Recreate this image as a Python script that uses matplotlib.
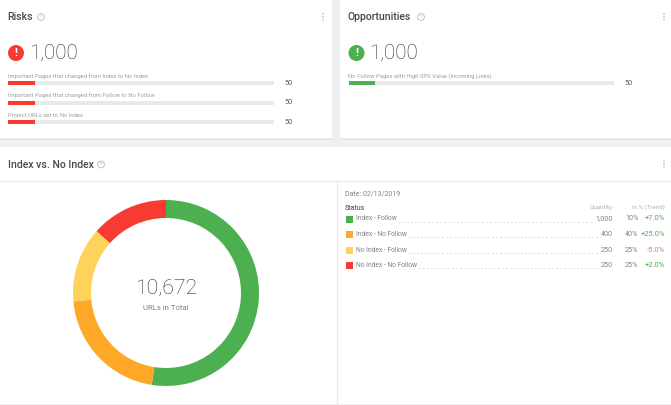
from matplotlib import pyplot as plt
from matplotlib.patches import Rectangle, Circle

plt.rcParams['font.family'] = ['Roboto', 'DejaVu Sans']

# chart values
risk_labels = ['Important Pages that changed from Index to No Index',
               'Important Pages that changed from Follow to No Follow',
               'Project URLs set to No Index']
risk_values = [50, 50, 50]
opp_labels = ['No Follow Pages with High SPS Value (Incoming Links)']
opp_values = [50]
bar_max = 500
risk_total = '1,000'
opp_total = '1,000'

donut_status = ['Index - Follow', 'Index - No Follow', 'No Index - Follow', 'No Index - No Follow']
donut_share = [5600, 2250, 1390, 1432]
donut_total = '10,672'
table_qty = ['1,000', '400', '250', '250']
table_pct = ['10%', '40%', '25%', '25%']
table_trend = ['+7.0%', '+25.0%', '-5.0%', '+2.0%']

GREEN = '#4caf50'
ORANGE = '#ffa726'
YELLOW = '#ffd25c'
RED = '#f73b32'
status_colors = [GREEN, ORANGE, YELLOW, RED]
W, H = 671, 405


def px_axes(fig, x, y, w, h):
    # axes placed with pixel coords, y from the top
    return fig.add_axes([x / W, 1 - (y + h) / H, w / W, h / H])


def draw_help(ax, x, y, r=3.4):
    ax.add_patch(Circle((x, y), r, fc='none', ec='#b5b8ba', lw=0.6))
    ax.text(x, y + 0.2, '?', fontsize=3.8, color='#b5b8ba', ha='center', va='center')


def draw_dots(ax, x, y):
    for dy in (-3, 0, 3):
        ax.add_patch(Circle((x, y + dy), 0.85, fc='#b8bbbd', ec='none'))


def draw_card(ax, fig, x0, title, help_x, color, total, labels, values, dots_x):
    ax.text(x0 - 0.5, 17.5, title, fontsize=7.6, fontweight='medium', color='#47494c', ha='left', va='center')
    draw_help(ax, help_x, 17)
    ax.add_patch(Circle((x0 + 8, 53), 8, fc=color, ec='none'))
    ax.text(x0 + 8, 53, '!', fontsize=8, fontweight='bold', color='white', ha='center', va='center')
    ax.text(x0 + 21, 53.5, total, fontsize=14.8, fontweight='light', color='#2c2e30', ha='left', va='center')
    draw_dots(ax, dots_x, 17)
    for i, (label, value) in enumerate(zip(labels, values)):
        y = 83 + i * 19.7
        ax.text(x0, y - 7.2, label, fontsize=4.2, color='#9c9ea0', ha='left', va='center')
        bar_ax = px_axes(fig, x0, y - 2, 266, 4)
        bar_ax.barh([0], [bar_max], height=1, color='#e8e9ea')
        bar_ax.barh([0], [value], height=1, color=color)
        bar_ax.set_xlim(0, bar_max)
        bar_ax.set_ylim(-0.5, 0.5)
        bar_ax.axis('off')
        ax.text(x0 + 276, y + 0.3, str(value), fontsize=5.2, color='#5a5c5e', ha='left', va='center')


fig = plt.figure(figsize=(6.71, 4.05), dpi=100, facecolor='#eff0f2')
bg = fig.add_axes([0, 0, 1, 1])
bg.set_xlim(0, W)
bg.set_ylim(H, 0)
bg.axis('off')

# cards
bg.add_patch(Rectangle((0, 0), 332, 138, fc='white', ec='none'))
bg.add_patch(Rectangle((340, 0), 331, 138, fc='white', ec='none'))
bg.add_patch(Rectangle((0, 147), 671, 257, fc='white', ec='none'))
bg.plot([0, 332], [138.5, 138.5], color='#e2e3e5', lw=0.8)
bg.plot([340, 671], [138.5, 138.5], color='#e2e3e5', lw=0.8)
bg.plot([0, 671], [404.5, 404.5], color='#e2e3e5', lw=0.8)
bg.plot([0, 671], [181, 181], color='#e8e9ea', lw=0.8)
bg.plot([336.5, 336.5], [181, 404], color='#e8e9ea', lw=0.8)

draw_card(bg, fig, 8, 'Risks', 41, RED, risk_total, risk_labels, risk_values, 323)
draw_card(bg, fig, 348.5, 'Opportunities', 421, GREEN, opp_total, opp_labels, opp_values, 664)

# bottom panel
bg.text(7.5, 164.5, 'Index vs. No Index', fontsize=7.6, fontweight='medium', color='#47494c', ha='left', va='center')
draw_help(bg, 101, 164.5)
draw_dots(bg, 664, 164)

# donut
pie_ax = px_axes(fig, 166 - 94, 293 - 94, 188, 188)
pie_ax.pie(donut_share, colors=status_colors, startangle=90, counterclock=False,
           radius=93 / 94, wedgeprops=dict(width=18 / 94, linewidth=0))
pie_ax.set_xlim(-1, 1)
pie_ax.set_ylim(-1, 1)
bg.text(166.5, 288.5, donut_total, fontsize=15.3, fontweight='light', color='#2c2e30', ha='center', va='center')
bg.text(166, 308, 'URLs in Total', fontsize=5.6, color='#7d8083', ha='center', va='center')

# table
bg.text(345, 194.5, 'Date: 02/13/2019', fontsize=5, color='#808285', ha='left', va='center')
bg.text(345, 207.5, 'Status', fontsize=5, color='#606265', fontweight='medium', ha='left', va='center')
bg.text(612.5, 207.5, 'Quantity', fontsize=4.5, color='#b0b2b4', ha='right', va='center')
bg.text(664.5, 207.5, 'in % (Trend)', fontsize=4.5, color='#b0b2b4', ha='right', va='center')
qty_start = [595, 601, 601, 601]
for i, status in enumerate(donut_status):
    y = 219 + i * 15.65
    bg.add_patch(Rectangle((345.5, y - 3.5), 7, 7, fc=status_colors[i], ec='none'))
    t = bg.text(356, y, status, fontsize=4.85, color='#808285', ha='left', va='center')
    text_end = 356 + t.get_window_extent(fig.canvas.get_renderer()).width
    bg.plot([text_end + 1, qty_start[i]], [y + 2.5, y + 2.5], color='#cfd0d2', lw=0.5, ls=(0, (3, 3)))
    bg.text(612.5, y, table_qty[i], fontsize=5.2, color='#808285', ha='right', va='center')
    bg.text(638.5, y, table_pct[i], fontsize=5.2, color='#808285', ha='right', va='center')
    trend_color = '#f46a63' if table_trend[i].startswith('-') else '#4caf50'
    bg.text(665, y, table_trend[i], fontsize=5.4, color=trend_color, ha='right', va='center')

plt.savefig('out.png', dpi=100, facecolor=fig.get_facecolor())
